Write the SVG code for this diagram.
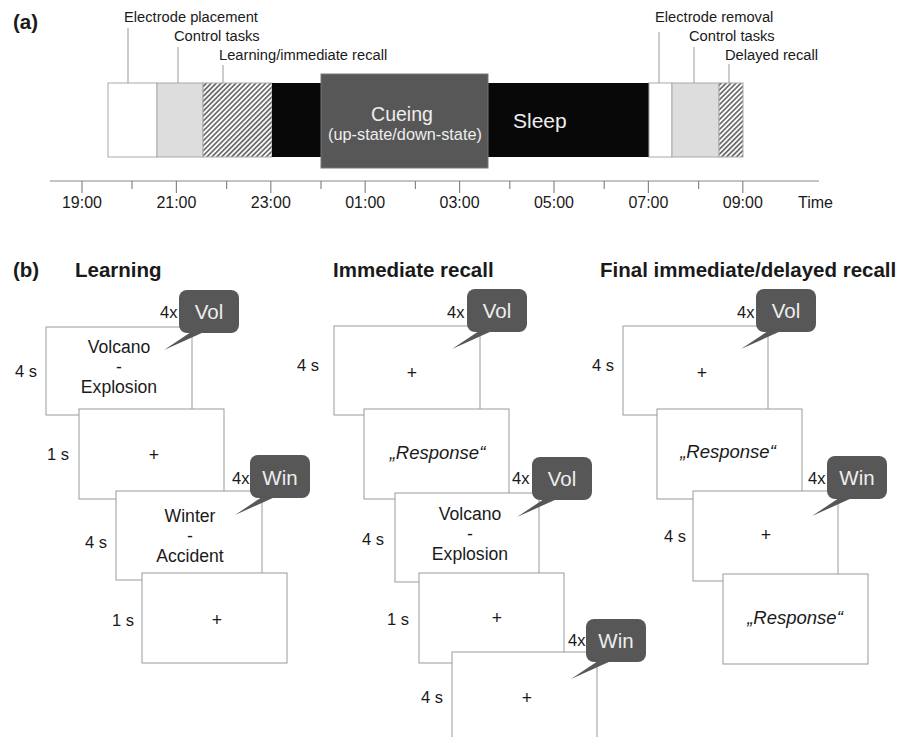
<svg xmlns="http://www.w3.org/2000/svg" width="899" height="737" viewBox="0 0 899 737">
<style>
text{font-family:"Liberation Sans",Arial,sans-serif;fill:#1a1a1a}
.title{font-weight:bold;font-size:20.5px}
.lbl{font-size:14.7px}
.tick{font-size:16px;text-anchor:middle}
.w{fill:#eeeeee}
.box{fill:#fff;stroke:#999;stroke-width:1}
.seg{stroke:#aaa;stroke-width:1}
.lead{stroke:#999;stroke-width:1;fill:none}
.ax{stroke:#888;stroke-width:1.2;fill:none}
.t{font-size:17.6px;text-anchor:middle}
.it{font-size:18.5px;text-anchor:middle;font-style:italic}
.dur{font-size:16.5px}
.bub{fill:#575757}
.bt{font-size:20.5px;text-anchor:middle;fill:#eeeeee}
</style>
<defs>
<pattern id="hatch" patternUnits="userSpaceOnUse" width="3.5" height="10" patternTransform="rotate(45)">
<rect width="3.5" height="10" fill="#fff"/>
<line x1="1.75" y1="0" x2="1.75" y2="10" stroke="#000" stroke-width="1"/>
</pattern>
<g id="bubble">
<rect x="0" y="0" width="60" height="43" rx="8" class="bub"/>
<polygon points="12,42 25,42 -15,60" class="bub"/>
</g>
</defs>
<rect width="899" height="737" fill="#fff"/>

<!-- (a) timeline -->
<g id="panel-a">
<text x="13" y="29" class="title">(a)</text>
<g id="seg-electrode-placement"><rect x="108" y="83" width="49" height="74" fill="#fff" class="seg"/></g>
<g id="seg-control-1"><rect x="157" y="83" width="46" height="74" fill="#dddddd" class="seg"/></g>
<g id="seg-learning"><rect x="203" y="83" width="69" height="74" fill="url(#hatch)" class="seg"/></g>
<g id="seg-sleep-1"><rect x="272" y="83" width="49" height="74" fill="#080808"/></g>
<g id="seg-sleep-2"><rect x="488" y="83" width="161" height="74" fill="#080808"/>
<text x="513" y="128" font-size="21" class="w">Sleep</text></g>
<g id="seg-cueing"><rect x="321" y="74" width="167" height="94" fill="#575757" stroke="#777" stroke-width="1"/>
<text x="402" y="121" font-size="19.5" text-anchor="middle" class="w">Cueing</text>
<text x="405" y="139.5" font-size="16.3" text-anchor="middle" class="w">(up-state/down-state)</text></g>
<g id="seg-electrode-removal"><rect x="649" y="83" width="23" height="74" fill="#fff" class="seg"/></g>
<g id="seg-control-2"><rect x="672" y="83" width="47" height="74" fill="#dddddd" class="seg"/></g>
<g id="seg-delayed"><rect x="719" y="83" width="24" height="74" fill="url(#hatch)" class="seg"/></g>

<text x="124" y="21.5" class="lbl">Electrode placement</text>
<text x="174" y="41" class="lbl">Control tasks</text>
<text x="219" y="59.5" class="lbl">Learning/immediate recall</text>
<text x="655" y="21.5" class="lbl">Electrode removal</text>
<text x="689" y="41" class="lbl">Control tasks</text>
<text x="725" y="59.5" class="lbl">Delayed recall</text>

<g id="axis">
<line x1="50" y1="181" x2="819" y2="181" class="ax"/>
<path class="ax" d="M82,181v12M176.4,181v12M270.8,181v12M365.2,181v12M459.6,181v12M554,181v12M648.4,181v12M742.8,181v12
M132,181v8M226.6,181v8M321,181v8M415.4,181v8M509.8,181v8M604.2,181v8M698.6,181v8"/>
<text x="82" y="208" class="tick">19:00</text>
<text x="176.4" y="208" class="tick">21:00</text>
<text x="270.8" y="208" class="tick">23:00</text>
<text x="365.2" y="208" class="tick">01:00</text>
<text x="459.6" y="208" class="tick">03:00</text>
<text x="554" y="208" class="tick">05:00</text>
<text x="648.4" y="208" class="tick">07:00</text>
<text x="742.8" y="208" class="tick">09:00</text>
<text x="798" y="208" font-size="16">Time</text>
</g>
</g>

<g id="connectors">
<path class="lead" d="M128,28V83M178,47V83M223,65V83M659,32V83M694,47V83M729,64V83"/>
</g>

<!-- (b) -->
<text x="13" y="277" class="title">(b)</text>
<text x="75" y="277" class="title">Learning</text>
<text x="333" y="277" class="title">Immediate recall</text>
<text x="600" y="277" class="title">Final immediate/delayed recall</text>

<!-- Learning -->
<g id="L1"><rect x="46" y="327" width="146" height="88" class="box"/>
<text x="119" y="353" class="t">Volcano</text><text x="119" y="373" class="t">-</text><text x="119" y="393" class="t">Explosion</text>
<text x="15" y="377" class="dur">4 s</text></g>
<g id="L2"><rect x="79" y="409" width="145" height="90" class="box"/>
<text x="154" y="461" class="t">+</text><text x="47" y="460" class="dur">1 s</text></g>
<g id="L3"><rect x="116" y="491" width="146" height="89" class="box"/>
<text x="190" y="522" class="t">Winter</text><text x="190" y="542" class="t">-</text><text x="190" y="562" class="t">Accident</text>
<text x="85" y="548" class="dur">4 s</text></g>
<g id="L4"><rect x="142" y="573" width="145" height="90" class="box"/>
<text x="217" y="626" class="t">+</text><text x="112" y="626" class="dur">1 s</text></g>

<!-- Immediate recall -->
<g id="M1"><rect x="334" y="326" width="146" height="89" class="box"/>
<text x="412" y="379" class="t">+</text><text x="297" y="371" class="dur">4 s</text></g>
<g id="M2"><rect x="364" y="409" width="145" height="90" class="box"/>
<text x="437.5" y="459" class="it">„Response“</text></g>
<g id="M3"><rect x="395" y="493" width="144" height="89" class="box"/>
<text x="470" y="520" class="t">Volcano</text><text x="470" y="540" class="t">-</text><text x="470" y="560" class="t">Explosion</text>
<text x="362" y="545" class="dur">4 s</text></g>
<g id="M4"><rect x="419" y="573" width="145" height="90" class="box"/>
<text x="497" y="624" class="t">+</text><text x="387" y="625" class="dur">1 s</text></g>
<g id="M5"><rect x="452" y="652" width="145" height="100" class="box"/>
<text x="527" y="704" class="t">+</text><text x="421" y="703" class="dur">4 s</text></g>

<!-- Final recall -->
<g id="R1"><rect x="623" y="326" width="145" height="89" class="box"/>
<text x="702" y="379" class="t">+</text><text x="592" y="371" class="dur">4 s</text></g>
<g id="R2"><rect x="657" y="409" width="145" height="90" class="box"/>
<text x="728" y="458" class="it">„Response“</text></g>
<g id="R3"><rect x="693" y="491" width="145" height="90" class="box"/>
<text x="766" y="541" class="t">+</text><text x="664" y="542" class="dur">4 s</text></g>
<g id="R4"><rect x="723" y="574" width="145" height="90" class="box"/>
<text x="795" y="624" class="it">„Response“</text></g>

<!-- bubbles -->
<g id="bubble-L1"><use href="#bubble" x="179" y="290"/><text x="209" y="319" class="bt">Vol</text><text x="160" y="318" class="dur">4x</text></g>
<g id="bubble-L2"><use href="#bubble" x="250" y="455"/><text x="280" y="485" class="bt">Win</text><text x="232" y="484" class="dur">4x</text></g>
<g id="bubble-M1"><use href="#bubble" x="467" y="289"/><text x="497" y="318" class="bt">Vol</text><text x="447" y="318" class="dur">4x</text></g>
<g id="bubble-M2"><use href="#bubble" x="532" y="457"/><text x="562" y="486" class="bt">Vol</text><text x="512" y="484" class="dur">4x</text></g>
<g id="bubble-M3"><use href="#bubble" x="586" y="619"/><text x="616" y="648" class="bt">Win</text><text x="568" y="646" class="dur">4x</text></g>
<g id="bubble-R1"><use href="#bubble" x="756" y="289"/><text x="786" y="318" class="bt">Vol</text><text x="737" y="318" class="dur">4x</text></g>
<g id="bubble-R2"><use href="#bubble" x="827" y="456"/><text x="857" y="485" class="bt">Win</text><text x="808" y="484" class="dur">4x</text></g>
</svg>
